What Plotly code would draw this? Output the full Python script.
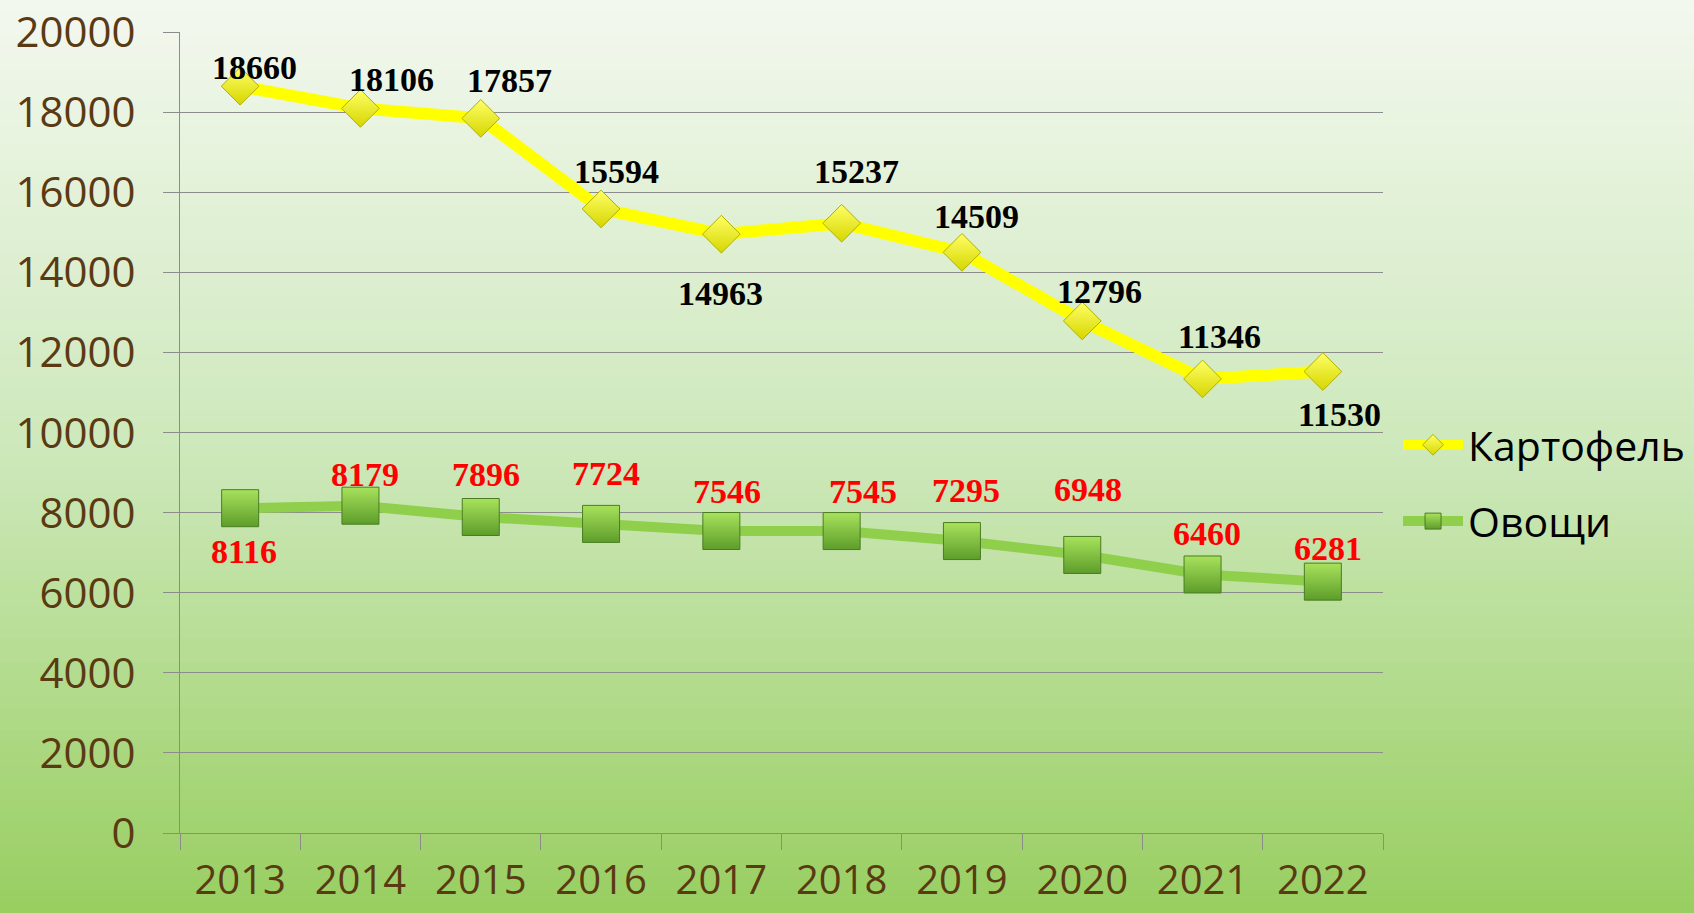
import plotly.graph_objects as go

years = ["2013", "2014", "2015", "2016", "2017", "2018", "2019", "2020", "2021", "2022"]
potato = [18660, 18106, 17857, 15594, 14963, 15237, 14509, 12796, 11346, 11530]
vegetables = [8116, 8179, 7896, 7724, 7546, 7545, 7295, 6948, 6460, 6281]
series_names = ["Картофель", "Овощи"]

# label offsets in pixels (style)
potato_off = [(14, 19), (31, 29), (29, 38), (15, 37), (-1, -59), (15, 52), (15, 36), (17, 29), (17, 42), (17, -43)]
veg_off = [(4, -43), (5, 31), (5, 43), (5, 50), (6, 40), (21, 40), (4, 51), (6, 65), (4, 41), (5, 33)]

fig = go.Figure()

W, H = 1694, 913
ml, mr, mt, mb = 180, 311, 32, 80
pw, ph = W - ml - mr, H - mt - mb
stops = [(0.0, (243, 248, 239)), (0.5, (205, 232, 186)), (1.0, (152, 206, 96))]
def col(t):
    for i in range(len(stops) - 1):
        t0, c0 = stops[i]
        t1, c1 = stops[i + 1]
        if t <= t1:
            f = (t - t0) / (t1 - t0)
            return "rgb(%d,%d,%d)" % tuple(round(c0[k] + (c1[k] - c0[k]) * f) for k in range(3))
    return "rgb(%d,%d,%d)" % stops[-1][1]
N = 80
shapes = []
for i in range(N):
    py0 = H * i / N
    py1 = H * (i + 1) / N + 1
    y0 = 1 - (py1 - mt) / ph
    y1 = 1 - (py0 - mt) / ph
    shapes.append(dict(type="rect", xref="paper", yref="paper",
                       x0=-ml / pw - 0.01, x1=1 + mr / pw + 0.01, y0=y0, y1=y1,
                       fillcolor=col((i + 0.5) / N), line=dict(width=0), layer="below"))

fig.add_trace(go.Scatter(
    x=years, y=potato, name=series_names[0], mode="lines+markers", legendgroup="a",
    line=dict(color="#ffff00", width=12),
    marker=dict(symbol="diamond", size=29, color="#ffff66",
                gradient=dict(type="vertical", color="#d6d600"),
                line=dict(color="#b0b000", width=1))))
fig.add_trace(go.Scatter(
    x=years, y=vegetables, name=series_names[1], mode="lines+markers", legendgroup="b",
    line=dict(color="#8fcf4c", width=10),
    marker=dict(symbol="square", size=37, color="#a8e25c",
                gradient=dict(type="vertical", color="#5d9d2a"),
                line=dict(color="#4a7d22", width=1))))

annotations = []
for i, (v, (dx, dy)) in enumerate(zip(potato, potato_off)):
    annotations.append(dict(x=i, y=v, xref="x", yref="y", text="<b>%d</b>" % v, showarrow=False,
                            xshift=dx, yshift=dy,
                            font=dict(family="Liberation Serif", size=34, color="#000000")))
for i, (v, (dx, dy)) in enumerate(zip(vegetables, veg_off)):
    annotations.append(dict(x=i, y=v, xref="x", yref="y", text="<b>%d</b>" % v, showarrow=False,
                            xshift=dx, yshift=dy,
                            font=dict(family="Liberation Serif", size=34, color="#ff0000")))

fig.update_layout(
    width=W, height=H,
    margin=dict(l=ml, r=mr, t=mt, b=mb, autoexpand=False),
    paper_bgcolor="#eef6e8", plot_bgcolor="rgba(0,0,0,0)",
    shapes=shapes, annotations=annotations,
    showlegend=True,
    legend=dict(x=1.0125, y=0.526, xanchor="left", yanchor="top",
                font=dict(family="Open Sans", size=41, color="#000000"),
                bgcolor="rgba(0,0,0,0)", tracegroupgap=20, traceorder="grouped",
                itemwidth=60),
    xaxis=dict(type="category", categoryorder="array", categoryarray=years,
               range=[-0.5, 9.5], tickson="boundaries", ticks="outside", ticklen=16,
               tickcolor="#8c8c8c", showline=True, linecolor="#8c8c8c", linewidth=1,
               showgrid=False, tickangle=0, ticklabelstandoff=12, automargin=False,
               tickfont=dict(family="Open Sans", size=40, color="#5a3a12")),
    yaxis=dict(range=[0, 20015], dtick=2000, tickformat="d", ticks="outside", ticklen=16,
               tickcolor="#8c8c8c", showline=True, linecolor="#8c8c8c", linewidth=1,
               showgrid=True, gridcolor="#8c8c8c", gridwidth=1, zeroline=False,
               ticklabelstandoff=19, automargin=False,
               tickfont=dict(family="Open Sans", size=42, color="#5a3a12")),
)

fig.write_html("out.html", config={"displayModeBar": False})
with open("out.html", encoding="utf-8") as f:
    html = f.read()
html = html.replace("<head>", "<head><style>html,body{margin:0;padding:0;overflow:hidden}</style>", 1)
with open("out.html", "w", encoding="utf-8") as f:
    f.write(html)
